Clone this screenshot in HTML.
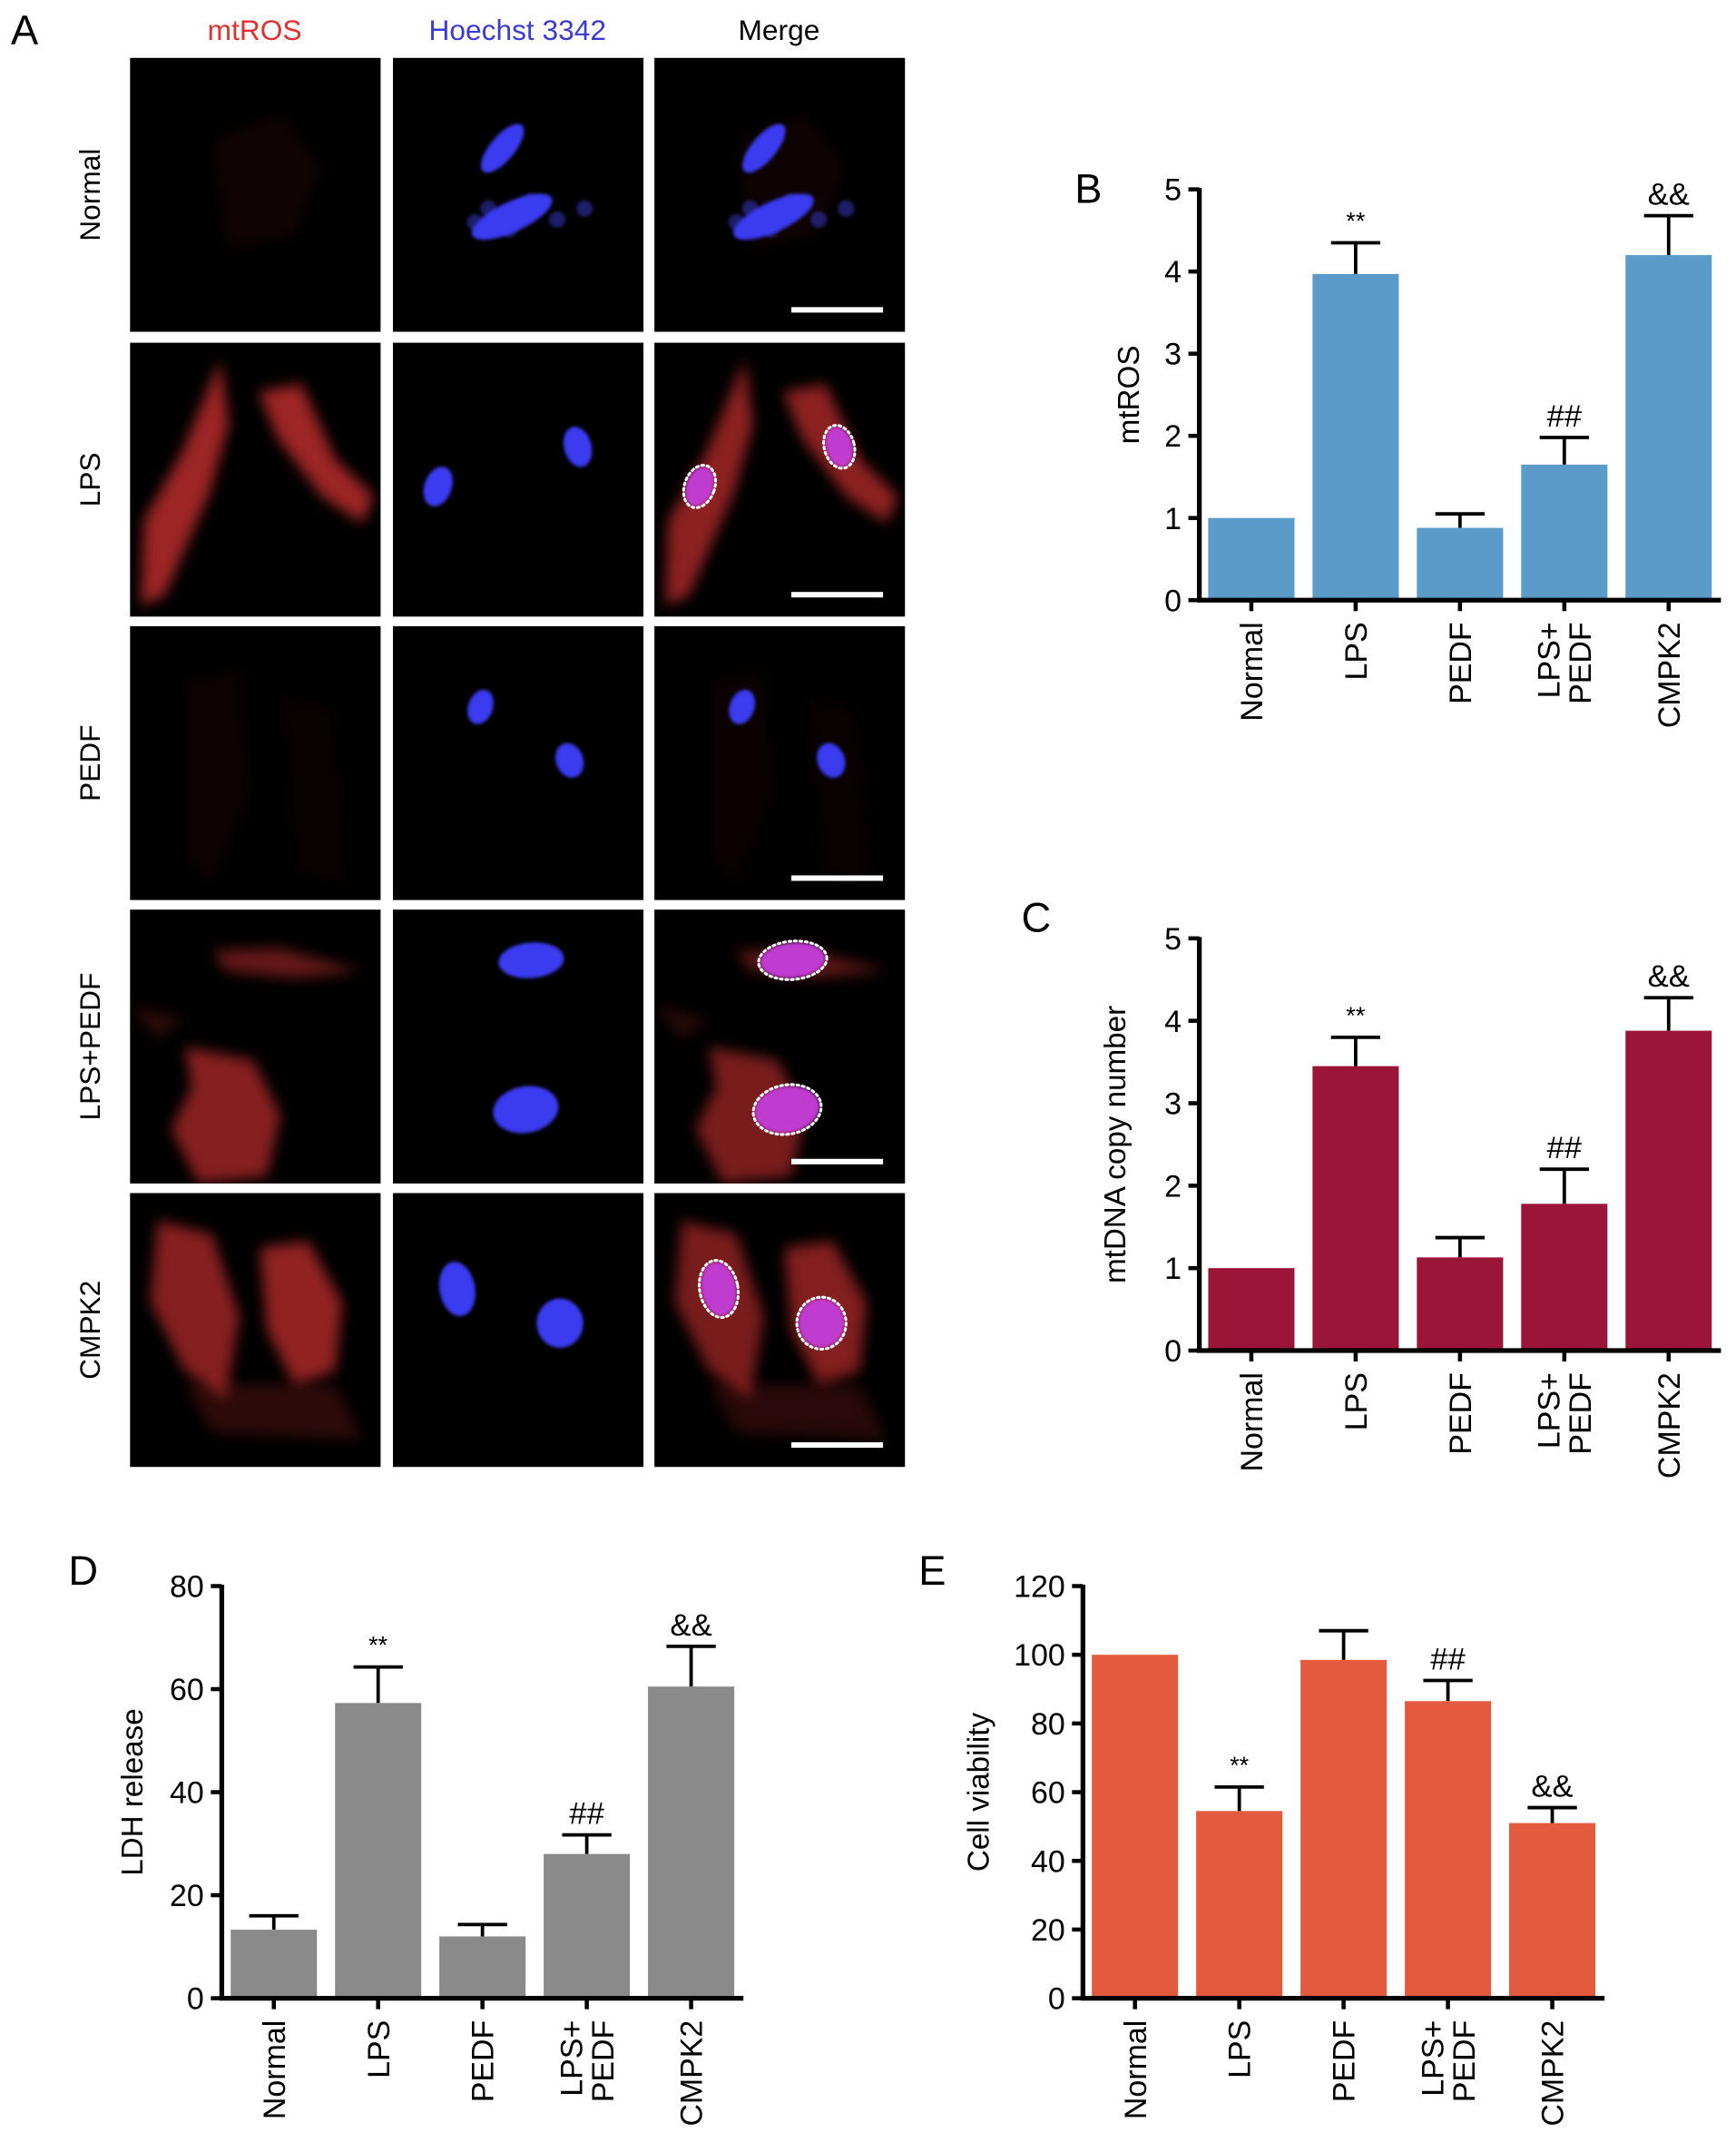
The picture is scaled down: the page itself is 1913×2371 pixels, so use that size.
<!DOCTYPE html>
<html><head><meta charset="utf-8"><style>
html,body{margin:0;padding:0;background:#fff}
svg{display:block}
text{font-family:"Liberation Sans",Arial,sans-serif}
</style></head><body>
<svg id="fig" width="1913" height="2371" viewBox="0 0 1268 1571" xmlns="http://www.w3.org/2000/svg">
<defs>
<filter id="b3" x="-50%" y="-50%" width="200%" height="200%"><feGaussianBlur stdDeviation="5"/></filter>
<filter id="b1" x="-50%" y="-50%" width="200%" height="200%"><feGaussianBlur stdDeviation="1.2"/></filter>
</defs>
<g id="panelA"></g>
<g id="charts"></g>
</svg>
<script>
const NS="http://www.w3.org/2000/svg";
function mk(tag,attrs,parent,txt){const e=document.createElementNS(NS,tag);for(const k in attrs)e.setAttribute(k,attrs[k]);if(txt!==undefined)e.textContent=txt;parent.appendChild(e);return e;}
const A=document.getElementById('panelA');
const CH=document.getElementById('charts');

// ---------- Panel A ----------
let t=mk('text',{x:8,y:32,'font-size':30,fill:'#000'},A,'A');


const colHeads=['mtROS','Hoechst 3342','Merge'];
const colColors=['#e03030','#3b3bd8','#000'];
const colX=[95,287,478];
const rowY=[42,250,457,664,871];
const rowNames=['Normal','LPS','PEDF','LPS+PEDF','CMPK2'];
colHeads.forEach((h,i)=>{
  const e=mk('text',{x:colX[i]+91,y:29,'font-size':21,fill:colColors[i],'text-anchor':'middle'},A,h);
  
  
});
const redShapes=[
 [{d:'M60,60 L110,40 L140,80 L120,130 L70,140 Z',o:0.07}],
 [{d:'M66,12 L72,60 L58,110 L25,185 L8,192 L10,130 L38,80 Z',o:0.7},{d:'M94,36 L125,30 L150,85 L178,112 L170,132 L140,112 L108,70 Z',o:0.7}],
 [{d:'M40,40 L80,30 L90,120 L60,190 L40,170 Z',o:0.05},{d:'M110,50 L150,60 L160,190 L120,180 Z',o:0.04}],
 [{d:'M60,30 L110,28 L170,45 L120,50 L70,45 Z',o:0.45},{d:'M40,100 L90,110 L110,150 L100,195 L50,200 L30,160 L45,130 Z',o:0.6},{d:'M0,70 L40,80 L20,95 Z',o:0.2}],
 [{d:'M20,20 L60,30 L80,90 L70,150 L40,130 L15,80 Z',o:0.6},{d:'M95,40 L130,35 L155,80 L150,130 L120,140 L100,100 Z',o:0.65},{d:'M40,140 L150,140 L170,180 L60,175 Z',o:0.2}]
];
const nuclei=[
 [[80,66,22,9,-50],[87,116,32,11,-25]],
 [[33,105,10,15,20],[135,76,10,15,-15]],
 [[64,59,9,13,20],[129,98,10,13,-20]],
 [[101,37,24,13,-5],[97,146,24,17,-10]],
 [[47,70,13,20,-10],[122,95,17,18,0]]
];
const outlined=[false,true,false,true,true];
rowY.forEach((y,r)=>{
  const lab=mk('text',{x:0,y:0,'font-size':21,fill:'#000','text-anchor':'middle',transform:`translate(73,${y+100}) rotate(-90)`},A,rowNames[r]);
  
  
  colX.forEach((x,c)=>{
    const g=mk('g',{transform:`translate(${x},${y})`},A);
    
    
    mk('rect',{x:0,y:0,width:183,height:200,fill:'#000'},g);
    const cl=mk('clipPath',{id:`cp${r}${c}`},g);mk('rect',{width:183,height:200},cl);
    const inner=mk('g',{'clip-path':`url(#cp${r}${c})`},g);
    if(c!==1){redShapes[r].forEach(s=>mk('path',{d:s.d,fill:'#e03535',opacity:s.o*(c===2?0.9:1),filter:'url(#b3)'},inner));}
    if(c!==0){
      if(r===0){[[70,110],[60,120],[100,105],[120,118],[140,110],[85,125]].forEach(p=>mk('circle',{cx:p[0],cy:p[1],r:6,fill:'#3030b0',opacity:0.6,filter:'url(#b1)'},inner));}
      nuclei[r].forEach(n=>{
        const pink=(c===2&&outlined[r]);
        mk('ellipse',{cx:n[0],cy:n[1],rx:n[2],ry:n[3],transform:`rotate(${n[4]} ${n[0]} ${n[1]})`,fill:pink?'#c03ad0':'#3a3af0',filter:'url(#b1)'},inner);
        if(pink)mk('ellipse',{cx:n[0],cy:n[1],rx:n[2]+1,ry:n[3]+1,transform:`rotate(${n[4]} ${n[0]} ${n[1]})`,fill:'none',stroke:'#fff','stroke-width':2,'stroke-dasharray':'1.5 2.5','stroke-linecap':'round'},inner);
      });
    }
    if(c===2){
      const bar=mk('rect',{x:100,y:182,width:67,height:4,fill:'#fff'},g);
      
      }
  });
});

// ---------- Bar charts ----------
const categories=['Normal','LPS','PEDF','LPS+\nPEDF','CMPK2'];
const mtrosValues=[1,3.97,0.88,1.65,4.2];
const mtrosErrors=[0,0.38,0.17,0.33,0.48];
const mtrosSig=['','**','','##','&&'];
const mtdnaValues=[1,3.45,1.13,1.78,3.88];
const mtdnaErrors=[0,0.35,0.24,0.42,0.4];
const mtdnaSig=['','**','','##','&&'];
const ldhValues=[13.3,57.3,12,28,60.5];
const ldhErrors=[2.7,7,2.3,3.7,7.8];
const ldhSig=['','**','','##','&&'];
const viabValues=[100,54.5,98.5,86.5,51];
const viabErrors=[0,7,8.5,6,4.5];
const viabSig=['','**','','##','&&'];
const ticks5=[0,1,2,3,4,5];
const ticks80=[0,20,40,60,80];
const ticks120=[0,20,40,60,80,100,120];

function chart(o){
  const g=mk('g',{},CH);
  
  
  const {x0,yTop,yBot,xEnd,max}=o;
  const yS=v=>yBot-(v/max)*(yBot-yTop);
  const step=76.2, bw=63;
  const xC=i=>x0+38+i*step;
  const pl=mk('text',{x:o.lx,y:o.ly,'font-size':30,fill:'#000'},g,o.letter);
  
  
  o.vals.forEach((v,i)=>{
    const top=yS(v+o.errs[i]);
    if(o.errs[i]>0){
      const eb=mk('g',{},g);
      
      
      mk('line',{x1:xC(i),x2:xC(i),y1:yS(v),y2:top,stroke:'#000','stroke-width':2.5},eb);
      mk('line',{x1:xC(i)-18,x2:xC(i)+18,y1:top,y2:top,stroke:'#000','stroke-width':2.5},eb);
    }
    const b=mk('rect',{x:xC(i)-bw/2,y:yS(v),width:bw,height:yBot-yS(v),fill:o.color},g);
    
    
    if(o.sig[i]){
      const s=mk('text',{x:xC(i),y:top-(o.sig[i]==='**'?10:8),'font-size':o.sig[i]==='**'?18:23,'text-anchor':'middle',fill:'#000'},g,o.sig[i]);
      
      
    }
    mk('line',{x1:xC(i),x2:xC(i),y1:yBot,y2:yBot+8,stroke:'#000','stroke-width':3},g);
    const parts=categories[i].split('\n');
    parts.forEach((p,k)=>{
      const off=(k-(parts.length-1)/2)*23+8;
      const tl=mk('text',{x:0,y:0,'font-size':22.5,'text-anchor':'end',fill:'#000',transform:`translate(${xC(i)+off},${yBot+16}) rotate(-90)`},g,p);
      
      
    });
  });
  const ax=mk('path',{d:`M${x0},${yTop-1} L${x0},${yBot} L${xEnd},${yBot}`,fill:'none',stroke:'#000','stroke-width':3.5},g);
  
  
  o.ticks.forEach(tv=>{
    mk('line',{x1:x0-8,x2:x0,y1:yS(tv),y2:yS(tv),stroke:'#000','stroke-width':3},g);
    const tl=mk('text',{x:x0-13,y:yS(tv)+8,'font-size':22.5,'text-anchor':'end',fill:'#000'},g,tv);
    
    
  });
  const yt=mk('text',{x:0,y:0,'font-size':22,'text-anchor':'middle',fill:'#000',transform:`translate(${o.yx},${(yTop+yBot)/2}) rotate(-90)`},g,o.ylab);
  
  
}
chart({name:'chart-b-mtros',letter:'B',lx:785,ly:148,x0:876,yTop:138,yBot:438,xEnd:1257,max:5,ticks:ticks5,vals:mtrosValues,errs:mtrosErrors,sig:mtrosSig,color:'#5b9bc9',ylab:'mtROS',yx:832});
chart({name:'chart-c-mtdna',letter:'C',lx:746,ly:680,x0:876,yTop:685,yBot:986,xEnd:1257,max:5,ticks:ticks5,vals:mtdnaValues,errs:mtdnaErrors,sig:mtdnaSig,color:'#9a1538',ylab:'mtDNA copy number',yx:822});
chart({name:'chart-d-ldh',letter:'D',lx:50,ly:1157,x0:162,yTop:1158,yBot:1459,xEnd:543,max:80,ticks:ticks80,vals:ldhValues,errs:ldhErrors,sig:ldhSig,color:'#8a8a8a',ylab:'LDH release',yx:104});
chart({name:'chart-e-viability',letter:'E',lx:671,ly:1157,x0:791,yTop:1158,yBot:1459,xEnd:1172,max:120,ticks:ticks120,vals:viabValues,errs:viabErrors,sig:viabSig,color:'#e35a3e',ylab:'Cell viability',yx:722});
</script>
</body></html>
